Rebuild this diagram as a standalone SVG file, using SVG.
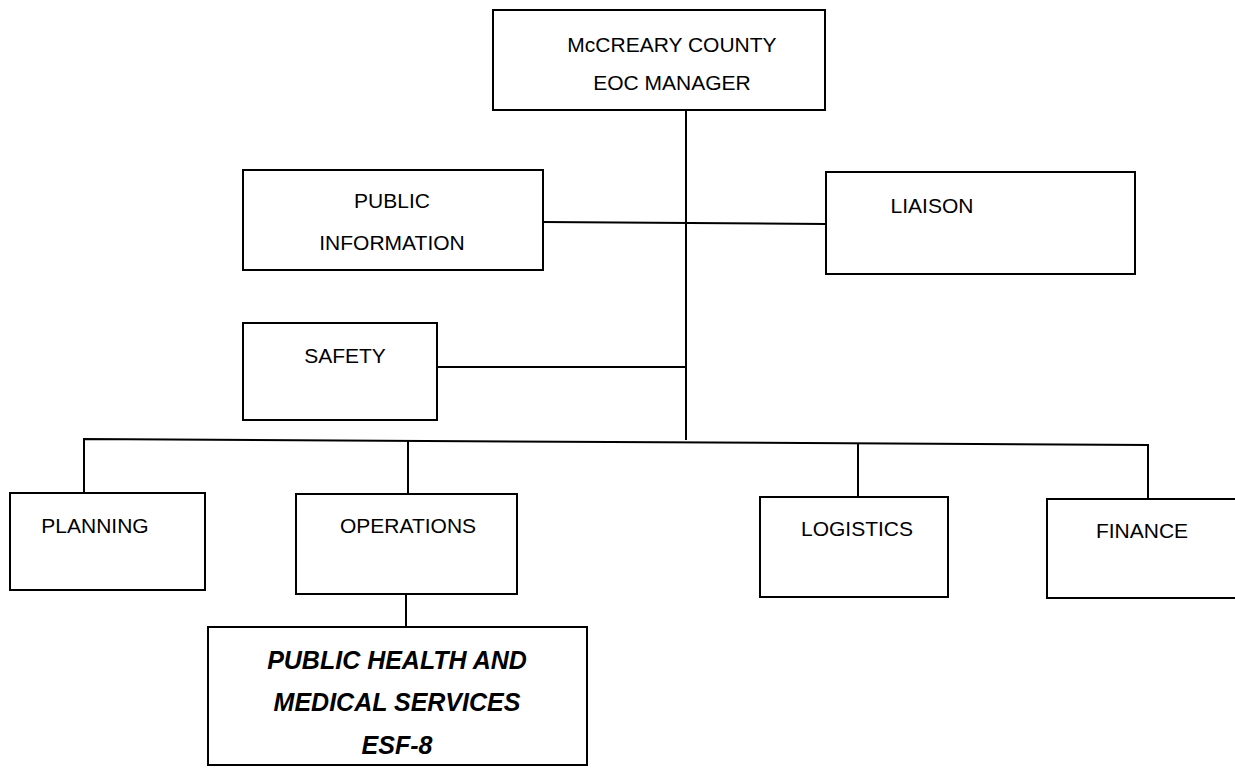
<svg xmlns="http://www.w3.org/2000/svg" width="1235" height="770" viewBox="0 0 1235 770">
<style>
.box{fill:#fff;stroke:#000;stroke-width:2}
.t{font-family:"Liberation Sans",Arial,sans-serif;font-size:21px;fill:#000;text-anchor:middle}
.b{font-family:"Liberation Sans",Arial,sans-serif;font-size:25px;font-weight:bold;font-style:italic;fill:#000;text-anchor:middle}
.c{fill:none;stroke:#000;stroke-width:2}
</style>
<rect width="1235" height="770" fill="#fff"/>
<g id="connectors">
<path class="c" d="M686 110 V440"/>
<path class="c" d="M543 222 L826 224"/>
<path class="c" d="M437 367 H686"/>
<path class="c" d="M84 493 V439 L1148 445 V499"/>
<path class="c" d="M408 440 V494"/>
<path class="c" d="M858 443 V497"/>
<path class="c" d="M406 594 V627"/>
</g>
<g id="manager"><rect class="box" x="493" y="10" width="332" height="100"/><text class="t" x="672" y="52">McCREARY COUNTY</text><text class="t" x="672" y="90">EOC MANAGER</text></g>
<g id="public-info"><rect class="box" x="243" y="170" width="300" height="100"/><text class="t" x="392" y="208">PUBLIC</text><text class="t" x="392" y="250">INFORMATION</text></g>
<g id="liaison"><rect class="box" x="826" y="172" width="309" height="102"/><text class="t" x="932" y="213">LIAISON</text></g>
<g id="safety"><rect class="box" x="243" y="323" width="194" height="97"/><text class="t" x="345" y="363">SAFETY</text></g>
<g id="planning"><rect class="box" x="10" y="493" width="195" height="97"/><text class="t" x="95" y="533">PLANNING</text></g>
<g id="operations"><rect class="box" x="296" y="494" width="221" height="100"/><text class="t" x="408" y="533">OPERATIONS</text></g>
<g id="logistics"><rect class="box" x="760" y="497" width="188" height="100"/><text class="t" x="857" y="536">LOGISTICS</text></g>
<g id="finance"><rect class="box" x="1047" y="499" width="190" height="99"/><text class="t" x="1142" y="538">FINANCE</text></g>
<g id="esf8"><rect class="box" x="208" y="627" width="379" height="138"/><text class="b" x="397" y="669">PUBLIC HEALTH AND</text><text class="b" x="397" y="711">MEDICAL SERVICES</text><text class="b" x="397" y="754">ESF-8</text></g>
</svg>
